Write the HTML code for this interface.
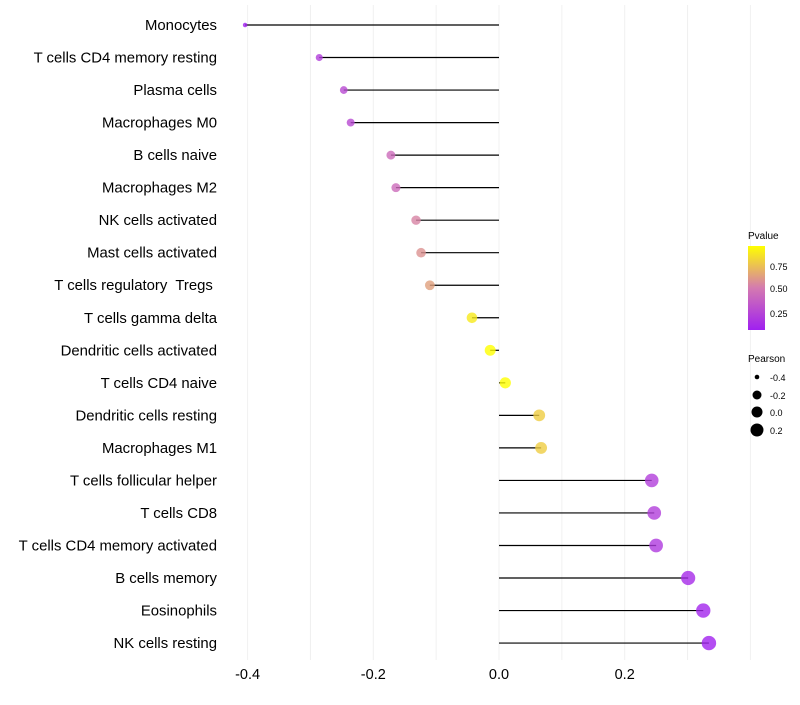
<!DOCTYPE html>
<html><head><meta charset="utf-8"><style>
body{margin:0;background:#fff;font-family:"Liberation Sans",sans-serif}
</style></head><body>
<svg id="chart" width="800" height="700" xmlns="http://www.w3.org/2000/svg">
<defs><linearGradient id="pg" x1="0" y1="1" x2="0" y2="0">
<stop offset="0" stop-color="#A020F0"/><stop offset="0.5" stop-color="#D47AB0"/><stop offset="1" stop-color="#FFFF00"/></linearGradient></defs>
<g id="grid"></g><g id="marks"></g><g id="labels"></g>
<g font-size="10">
<text x="748" y="239" fill="#000">Pvalue</text>
<rect x="748" y="246" width="17" height="84" fill="url(#pg)"/>
<text x="770" y="270" font-size="9">0.75</text><text x="770" y="292" font-size="9">0.50</text><text x="770" y="317" font-size="9">0.25</text>
</g>
<g font-size="9">
<text x="748" y="362" font-size="10">Pearson</text>
<circle cx="757" cy="377" r="2.3"/><text x="770" y="381">-0.4</text>
<circle cx="757" cy="395" r="4.5"/><text x="770" y="399">-0.2</text>
<circle cx="757" cy="412" r="5.5"/><text x="770" y="416">0.0</text>
<circle cx="757" cy="430" r="6.5"/><text x="770" y="434">0.2</text>
</g>
</svg>
<script>
const cells=["Monocytes","T cells CD4 memory resting","Plasma cells","Macrophages M0","B cells naive","Macrophages M2","NK cells activated","Mast cells activated","T cells regulatory  Tregs ","T cells gamma delta","Dendritic cells activated","T cells CD4 naive","Dendritic cells resting","Macrophages M1","T cells follicular helper","T cells CD8","T cells CD4 memory activated","B cells memory","Eosinophils","NK cells resting"];
const pearson=[-0.404,-0.286,-0.247,-0.236,-0.172,-0.164,-0.132,-0.124,-0.110,-0.043,-0.014,0.010,0.064,0.067,0.243,0.247,0.250,0.301,0.325,0.334];
const pvalue=[0.04,0.22,0.28,0.28,0.45,0.45,0.55,0.6,0.65,0.9,1.0,0.98,0.8,0.8,0.22,0.22,0.2,0.12,0.1,0.08];
const xTicks=[-0.4,-0.2,0.0,0.2];
const ns="http://www.w3.org/2000/svg";
const X=v=>499+v*628.5, Y=i=>25+i*32.53;
function col(p){const t=Math.max(0,Math.min(1,(p-0.07)/0.9));
 const a=[160,32,240],m=[212,122,176],b=[255,255,0];let c;
 if(t<0.5){const u=t/0.5;c=a.map((v,k)=>v+(m[k]-v)*u)}else{const u=(t-0.5)/0.5;c=m.map((v,k)=>v+(b[k]-v)*u)}
 return `rgb(${c.map(Math.round).join(',')})`;}
function mk(t,at,p){const e=document.createElementNS(ns,t);for(const k in at)e.setAttribute(k,at[k]);p.appendChild(e);return e;}
const g=document.getElementById('grid'),mg=document.getElementById('marks'),lg=document.getElementById('labels');
for(let v=-0.4;v<=0.401;v+=0.1){const l=mk('line',{x1:X(v),x2:X(v),y1:5,y2:660,stroke:'#f0f0f0','stroke-width':1},g);

}
xTicks.forEach(v=>{const t=mk('text',{x:X(v),y:679,'text-anchor':'middle','font-size':14.5,fill:'#000'},lg);t.textContent=v.toFixed(1);

});
cells.forEach((c,i)=>{
 const t=mk('text',{x:217,y:Y(i)+5,'text-anchor':'end','font-size':14.9,fill:'#000',style:'white-space:pre'},lg);t.textContent=c;
 
 
 const s=mk('line',{x1:X(0),x2:X(pearson[i]),y1:Y(i),y2:Y(i),stroke:'#000','stroke-width':1.2},mg);
 
 
 const r=Math.sqrt(5+64*(pearson[i]+0.404));
 const d=mk('circle',{cx:X(pearson[i]),cy:Y(i),r:r,fill:col(pvalue[i]),'fill-opacity':0.8},mg);
 
 
});
</script>
</body></html>
